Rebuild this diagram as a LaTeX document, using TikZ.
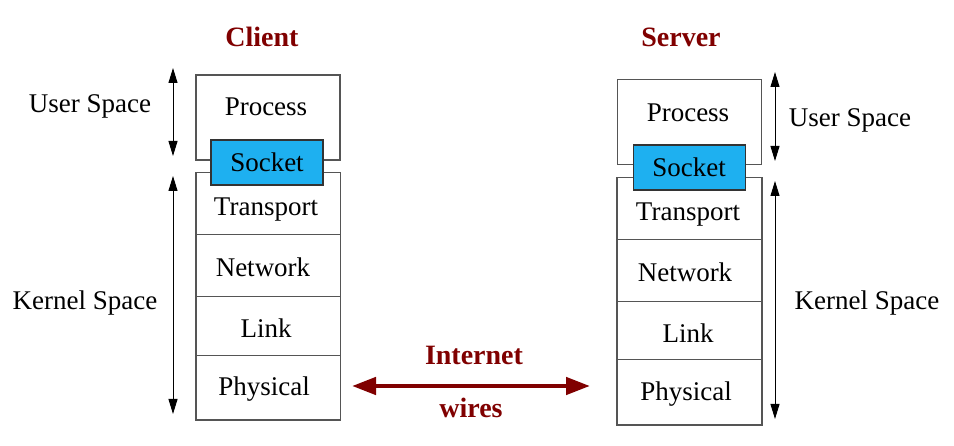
\documentclass[tikz,border=0pt]{standalone}
\usepackage{fontspec}
\setmainfont{Liberation Serif}
\usetikzlibrary{arrows.meta}
\definecolor{maroonx}{RGB}{128,0,0}
\definecolor{sockblue}{RGB}{30,176,240}
\definecolor{boxline}{RGB}{85,85,85}
\begin{document}
\begin{tikzpicture}[x=1pt,y=-1pt,
  lbl/.style={font=\fontsize{27}{29}\selectfont, inner sep=0pt},
  ttl/.style={font=\fontsize{28}{30}\selectfont\bfseries, text=maroonx, inner sep=0pt},
  layerbox/.style={draw=boxline, line width=1pt, minimum width=144pt, inner sep=0pt},
  procbox/.style={draw=boxline, line width=1.2pt, minimum width=144pt, minimum height=85pt, inner sep=0pt},
  sockbox/.style={draw=black!80, line width=1.2pt, fill=sockblue, minimum width=112pt, minimum height=45pt, inner sep=0pt},
  spacearrow/.style={line width=1pt, {Triangle[width=9pt,length=15pt]}-{Triangle[width=9pt,length=15pt]}},
  netarrow/.style={draw=maroonx, line width=4.5pt, {Triangle[width=17pt,length=24pt]}-{Triangle[width=17pt,length=24pt]}}
]
\useasboundingbox (0,0) rectangle (954,446);
\fill[white] (0,0) rectangle (954,446);

% ---------- Client ----------
\node[ttl] (ctitle) at (262,37) {Client};
\node[procbox] (cproc) at (268,117.5) {};
\node[layerbox, minimum height=62pt] (ctrans) at (268,204) {};
\node[layerbox, minimum height=62pt] (cnet) at (268,266) {};
\node[layerbox, minimum height=59pt] (clink) at (268,326.5) {};
\node[layerbox, minimum height=64pt] (cphys) at (268,388) {};
\draw[draw=boxline, line width=1.4pt] (ctrans.north west) rectangle (cphys.south east);
\node[sockbox] (csock) at (267,162.5) {};
\node[lbl] (cproct) at (266,107) {Process};
\node[lbl] (csockt) at (267,162) {Socket};
\node[lbl] (ctranst) at (266,210) {Transport};
\node[lbl] (cnett) at (263,267) {Network};
\node[lbl] (clinkt) at (266,328) {Link};
\node[lbl] (cphyst) at (264,389) {Physical};
\node[lbl] (cuser) at (90,106) {User Space};
\node[lbl] (ckern) at (85,303) {Kernel Space};
\coordinate (cua) at (173,68);
\coordinate (cub) at (173,156);
\coordinate (cka) at (173,176);
\coordinate (ckb) at (173,414);
\draw[spacearrow] (cua) -- (cub);
\draw[spacearrow] (cka) -- (ckb);

% ---------- Server ----------
\node[ttl] (stitle) at (681,37) {Server};
\node[procbox] (sproc) at (689.5,122) {};
\node[layerbox, minimum height=62pt] (strans) at (689.5,209) {};
\node[layerbox, minimum height=62pt] (snet) at (689.5,271) {};
\node[layerbox, minimum height=58pt] (slink) at (689.5,331) {};
\node[layerbox, minimum height=65pt] (sphys) at (689.5,392.5) {};
\draw[draw=boxline, line width=1.4pt] (strans.north west) rectangle (sphys.south east);
\node[sockbox] (ssock) at (689.5,167.5) {};
\node[lbl] (sproct) at (688,113) {Process};
\node[lbl] (ssockt) at (689,167) {Socket};
\node[lbl] (stranst) at (688,215) {Transport};
\node[lbl] (snett) at (685,272) {Network};
\node[lbl] (slinkt) at (688,333) {Link};
\node[lbl] (sphyst) at (686,394) {Physical};
\node[lbl] (suser) at (850,120) {User Space};
\node[lbl] (skern) at (867,303) {Kernel Space};
\coordinate (sua) at (775,72);
\coordinate (sub) at (775,161);
\coordinate (ska) at (775,181);
\coordinate (skb) at (775,419);
\draw[spacearrow] (sua) -- (sub);
\draw[spacearrow] (ska) -- (skb);

% ---------- Internet ----------
\node[ttl] (inet) at (474,355) {Internet};
\node[ttl] (wires) at (471,408) {wires};
\coordinate (ia) at (352,386);
\coordinate (ib) at (590,386);
\draw[netarrow] (ia) -- (ib);
\end{tikzpicture}
\end{document}
